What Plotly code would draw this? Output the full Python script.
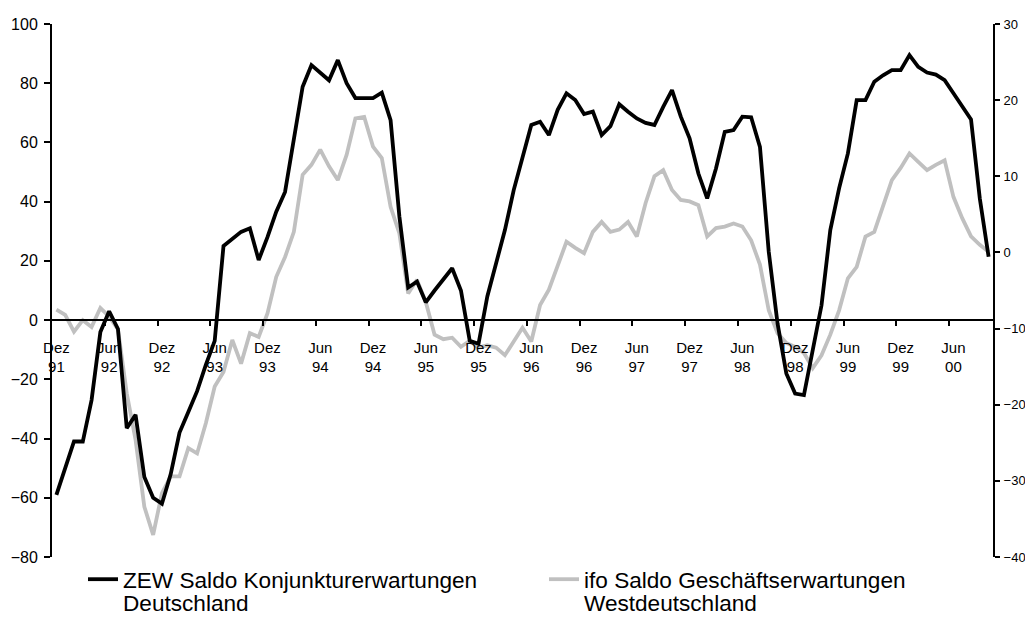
import plotly.graph_objects as go

# Monthly observations, Dez 1991 .. Okt 2000
zew = [-59, -50, -41, -41, -27, -4, 3, -3, -36.5, -32, -53, -60, -62, -52, -38, -31, -24, -15, -7, 25,
       27.6, 29.8, 31, 20.3, 28, 36.6, 43.3, 60.8, 78.8, 86.1, 83.7, 81, 87.8, 80, 75, 75, 75, 76.8, 67.5, 35,
       11, 13, 6, 10, 14, 17.5, 10, -7, -8, 8, 19.2, 30.4, 43.9, 55, 65.9, 67, 62.5, 71, 76.6, 74.3,
       69.6, 70.4, 62.5, 65.5, 72.9, 70.4, 68.1, 66.6, 65.9, 72, 77.7, 68.7, 61.4, 49.5, 41.1, 51.2, 63.6, 64.2, 68.7, 68.5,
       58.5, 23.1, -1.1, -18, -24.8, -25.3, -10, 5, 30.4, 44.5, 56.3, 74.3, 74.3, 80.5, 82.7, 84.4, 84.4, 89.5, 85.5, 83.6,
       82.9, 81, 76.6, 72, 67.8, 41.1, 21.4]

ifo = [-7.5, -8.2, -10.4, -8.9, -9.8, -7.3, -8.4, -10.1, -18.5, -24.6, -33.4, -37.1, -31.6, -29.4, -29.4, -25.7, -26.4, -22.4, -17.6, -15.7,
       -11.5, -14.6, -10.6, -11.1, -8, -3.2, -0.6, 2.7, 10.2, 11.5, 13.5, 11.3, 9.5, 12.8, 17.6, 17.8, 13.9, 12.4, 6, 2.5,
       -5.4, -3.6, -6.5, -10.8, -11.4, -11.2, -12.4, -11.6, -12.5, -12.2, -12.5, -13.5, -11.7, -9.9, -11.7, -6.9, -4.9, -1.9, 1.4, 0.6,
       -0.1, 2.7, 4, 2.7, 3, 4, 2.1, 6.5, 10, 10.8, 8.2, 6.9, 6.7, 6.2, 2.1, 3.2, 3.4, 3.8, 3.4, 1.6,
       -1.6, -7.6, -10.6, -11.9, -12.4, -13.2, -15.2, -13.5, -10.8, -7.6, -3.4, -1.9, 2.1, 2.7, 6, 9.5, 11.1, 13, 11.9, 10.8,
       11.5, 12.1, 7.3, 4.5, 2.1, 1, 0.1]

month_index = list(range(len(zew)))

tick_pos = [0, 6, 12, 18, 24, 30, 36, 42, 48, 54, 60, 66, 72, 78, 84, 90, 96, 102]
tick_labels = ["Dez<br>91", "Jun<br>92", "Dez<br>92", "Jun<br>93", "Dez<br>93", "Jun<br>94",
               "Dez<br>94", "Jun<br>95", "Dez<br>95", "Jun<br>96", "Dez<br>96", "Jun<br>97",
               "Dez<br>97", "Jun<br>98", "Dez<br>98", "Jun<br>99", "Dez<br>99", "Jun<br>00"]
tick_marks = [5.5, 11.5, 17.5, 23.5, 29.5, 35.5, 41.5, 47.5, 53.5, 59.5, 65.5, 71.5,
              77.5, 83.5, 89.5, 95.5, 101.5]

zew_name = ["ZEW Saldo Konjunkturerwartungen", "Deutschland"]
ifo_name = ["ifo Saldo Geschäftserwartungen", "Westdeutschland"]

FONT = "Liberation Sans, Arial, sans-serif"
W, H = 1025, 617
L, R, T, B = 52, 32, 24, 60
PW, PH = W - L - R, H - T - B
LEG_SIZE = 22.6

fig = go.Figure()
fig.add_trace(go.Scatter(
    x=month_index, y=ifo, mode="lines", yaxis="y",
    name=ifo_name[0],
    line=dict(color="#c0c0c0", width=3.8), legendrank=2))
fig.add_trace(go.Scatter(
    x=month_index, y=zew, mode="lines", yaxis="y2",
    name=zew_name[0],
    line=dict(color="#000000", width=3.8), legendrank=1))

# second lines of the legend entries
for text, px in [(zew_name[1], 122), (ifo_name[1], 583)]:
    fig.add_annotation(
        text=text, xref="paper", yref="paper",
        x=(px - L) / PW, y=(H - B - 603) / PH,
        xanchor="left", yanchor="middle", showarrow=False, borderpad=0,
        font=dict(size=LEG_SIZE, family=FONT, color="black"))

fig.update_layout(
    template="none",
    width=W, height=H,
    margin=dict(l=L, r=R, t=T, b=B),
    paper_bgcolor="white", plot_bgcolor="white",
    font=dict(family=FONT, color="black"),
    xaxis=dict(
        range=[-0.5, 106.5], anchor="free", position=80 / 180,
        showline=True, linecolor="black", linewidth=1.5,
        tickmode="array", tickvals=tick_pos, ticktext=tick_labels,
        ticks="", tickfont=dict(size=15, family=FONT, color="black"),
        ticklabelstandoff=14,
        minor=dict(tickmode="array", tickvals=tick_marks, ticks="outside",
                   ticklen=5, tickwidth=1.5, tickcolor="black"),
        showgrid=False, zeroline=False,
    ),
    yaxis=dict(
        range=[-40, 30], dtick=10, side="right",
        showline=True, linecolor="black", linewidth=2,
        ticks="outside", ticklen=5, tickwidth=1.5, tickcolor="black",
        tickfont=dict(size=13, family=FONT, color="black"),
        ticklabelstandoff=1,
        showgrid=False, zeroline=False,
    ),
    yaxis2=dict(
        range=[-80, 100], dtick=20, side="left", overlaying="y",
        showline=True, linecolor="black", linewidth=2,
        ticks="outside", ticklen=6, tickwidth=1.5, tickcolor="black",
        tickfont=dict(size=16, family=FONT, color="black"),
        ticklabelstandoff=3,
        showgrid=False, zeroline=False,
    ),
    yaxis3=dict(
        range=[-40, 30], dtick=10, side="right", overlaying="y", anchor="x",
        showline=False, showticklabels=False,
        ticks="inside", ticklen=5, tickwidth=1.5, tickcolor="black",
        showgrid=False, zeroline=False,
    ),
    showlegend=True,
    legend=dict(
        orientation="h", xref="container", yref="container",
        x=83 / W, y=1 - 558 / H, xanchor="left", yanchor="top",
        font=dict(size=LEG_SIZE, family=FONT, color="black"),
        bgcolor="rgba(0,0,0,0)", valign="middle",
        entrywidthmode="pixels", entrywidth=416,
    ),
)

fig.write_html("out.html", config={"displayModeBar": False},
               post_script="document.body.style.margin='0px';")
